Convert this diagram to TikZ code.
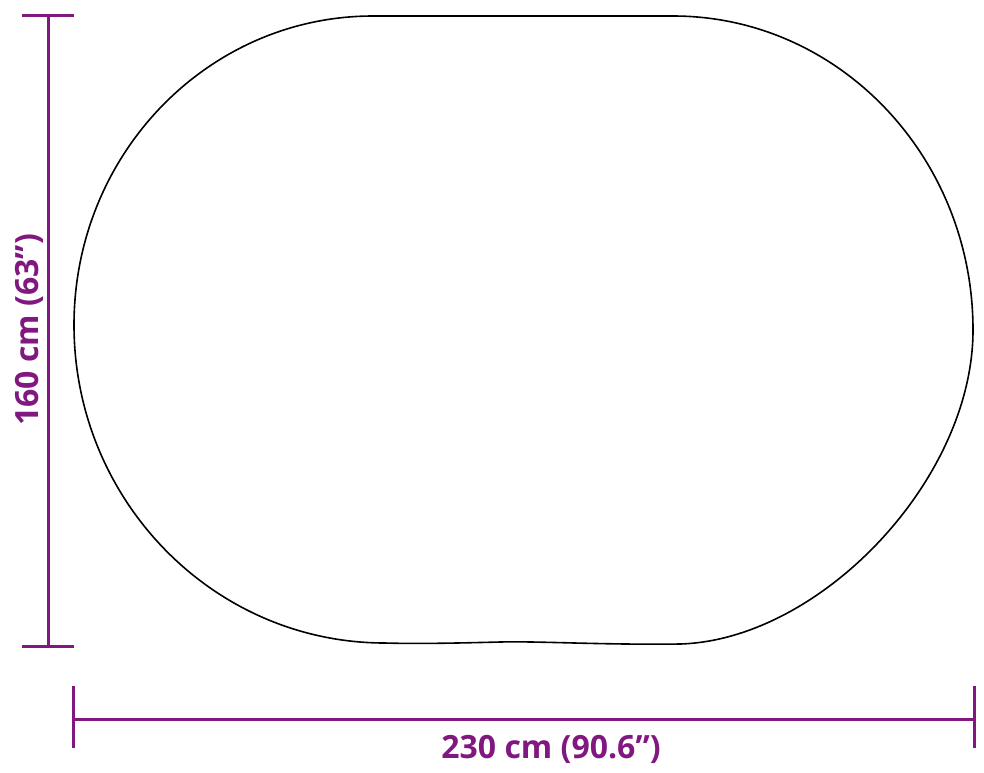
\documentclass[tikz,border=0pt]{standalone}
\usepackage{fontspec}
\setmainfont{Open Sans}
\usepackage{tikz}
\definecolor{dimpurple}{RGB}{128,24,128}

\begin{document}
\begin{tikzpicture}[x=1pt,y=-1pt,
  dimline/.style={dimpurple, line width=3pt},
  dimlabel/.style={dimpurple, font=\fontsize{32}{38}\selectfont\bfseries, inner sep=0pt}]
\useasboundingbox (0,0) rectangle (984,772);
% outline of the rug
\draw [line width=1.6pt] (373,16) -- (673,16)
  .. controls (839,16) and (973,157) .. (973,330)
  .. controls (973,480) and (820,640) .. (680,644)
  .. controls (600,645) and (540,641) .. (500,642)
  .. controls (460,643) and (420,644) .. (385,643)
  .. controls (213,643) and (74,500) .. (74,325)
  .. controls (74,154) and (208,16) .. (373,16) -- cycle;
% height
\coordinate (htop) at (48,15);
\coordinate (hbot) at (48,646);
\draw [dimline] (htop) -- (hbot);
\draw [dimline] (22,15) -- (74,15);
\draw [dimline] (22,646) -- (74,646);
\node (hlabel) [dimlabel, rotate=90, anchor=base] at (38,330) {160 cm (63”)};
% width
\coordinate (wleft) at (73,719);
\coordinate (wright) at (974,719);
\draw [dimline] (wleft) -- (wright);
\draw [dimline] (73,686) -- (73,748);
\draw [dimline] (974,686) -- (974,748);
\node (wlabel) [dimlabel, anchor=base] at (551,758) {230 cm (90.6”)};
\end{tikzpicture}
\end{document}
